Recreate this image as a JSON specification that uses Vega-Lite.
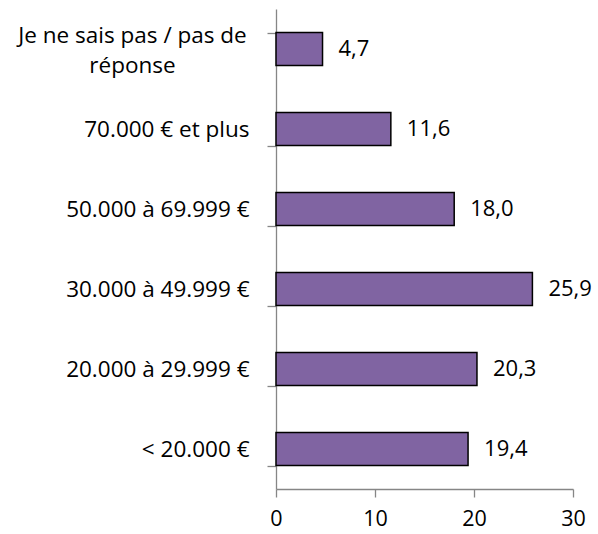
{
  "$schema": "https://vega.github.io/schema/vega-lite/v6.json",
  "autosize": "none",
  "padding": {"left": 276, "top": 9, "right": 25, "bottom": 45},
  "width": 297,
  "height": 480,
  "config": {
    "view": {"stroke": null},
    "font": "Open Sans",
    "locale": {"number": {"decimal": ",", "thousands": ".", "grouping": [3], "currency": ["", " €"]}}
  },
  "data": {"values": [
    {"cat": "Je ne sais pas / pas de réponse", "val": 4.7},
    {"cat": "70.000 € et plus", "val": 11.6},
    {"cat": "50.000 à 69.999 €", "val": 18.0},
    {"cat": "30.000 à 49.999 €", "val": 25.9},
    {"cat": "20.000 à 29.999 €", "val": 20.3},
    {"cat": "< 20.000 €", "val": 19.4}
  ]},
  "encoding": {
    "y": {
      "field": "cat", "type": "nominal", "sort": null,
      "scale": {"paddingInner": 0.5875, "paddingOuter": 0.29375},
      "axis": {
        "title": null,
        "tickBand": "extent",
        "domainColor": "#868686",
        "tickColor": "#868686",
        "tickOpacity": {"condition": {"test": "datum.value === 'Je ne sais pas / pas de réponse'", "value": 0}, "value": 1},
        "domainWidth": 1.3, "tickWidth": 1.3,
        "tickSize": 9,
        "labelFont": "Open Sans", "labelFontSize": 22.5, "labelColor": "#000000",
        "labelLimit": 400,
        "labelLineHeight": 30,
        "labelExpr": "datum.value === 'Je ne sais pas / pas de réponse' ? ['Je ne sais pas / pas de', 'réponse'] : datum.value",
        "labelAlign": {"condition": {"test": "datum.value === 'Je ne sais pas / pas de réponse'", "value": "center"}, "value": "right"},
        "labelPadding": {"condition": {"test": "datum.value === 'Je ne sais pas / pas de réponse'", "value": 135}, "value": 18},
        "labelOffset": {"condition": {"test": "datum.value === 'Je ne sais pas / pas de réponse'", "value": -14}, "value": 0}
      }
    }
  },
  "layer": [
    {
      "mark": {"type": "bar", "color": "#8064A2", "stroke": "#000000", "strokeWidth": 1.5},
      "encoding": {
        "x": {
          "field": "val", "type": "quantitative",
          "scale": {"domain": [0, 30], "nice": false},
          "axis": {
            "title": null, "values": [0, 10, 20, 30], "grid": false,
            "domainColor": "#868686", "tickColor": "#868686",
            "domainWidth": 1.3, "tickWidth": 1.3,
            "tickSize": 8,
            "labelFont": "Open Sans", "labelFontSize": 21.5, "labelColor": "#000000",
            "labelPadding": 11, "labelFlush": false
          }
        }
      }
    },
    {
      "mark": {"type": "text", "align": "left", "baseline": "middle", "dx": 16, "fontSize": 22, "font": "Open Sans", "color": "#000000"},
      "encoding": {
        "x": {"field": "val", "type": "quantitative"},
        "text": {"field": "val", "type": "quantitative", "format": ".1f"}
      }
    }
  ]
}
